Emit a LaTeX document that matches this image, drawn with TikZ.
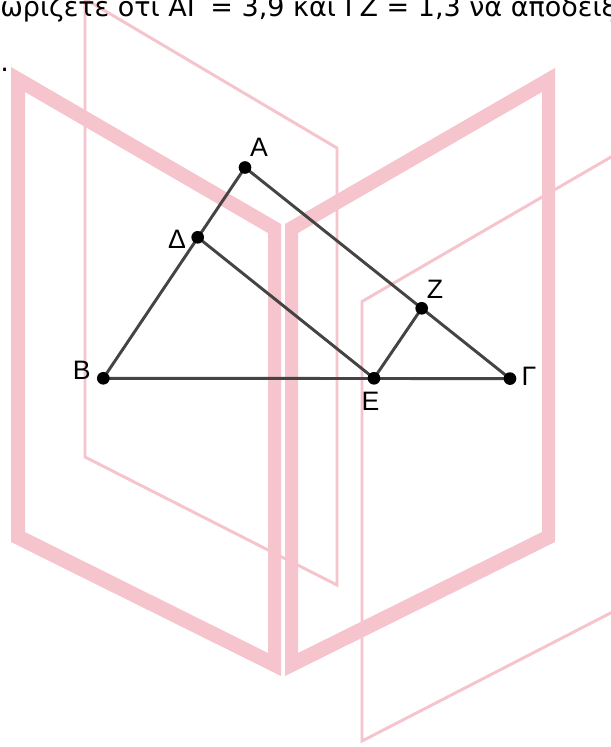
\documentclass[tikz,border=0pt]{standalone}
\usepackage{fontspec}
\setmainfont{Liberation Sans}
\newfontfamily\topfont{DejaVu Sans}
\definecolor{wm}{RGB}{246,196,204}
\definecolor{seg}{RGB}{68,68,68}
\tikzset{
  band/.style={fill=wm, even odd rule, draw=none},
  thinframe/.style={draw=wm, line width=2.2pt, line join=miter},
  segline/.style={draw=seg, line width=2.2pt},
  dot/.style={circle, fill=black, inner sep=0pt, minimum size=9.5pt},
  ptlabel/.style={inner sep=0pt, font=\fontsize{20}{22}\selectfont},
  toptext/.style={inner sep=0pt, font=\topfont\fontsize{20.25}{24}\selectfont}
}
\begin{document}
\begin{tikzpicture}[x=0.75pt,y=-0.75pt]
\useasboundingbox (0,0) rectangle (611,747);
\clip (0,0) rectangle (611,747);
\fill[white] (0,0) rectangle (611,747);
% watermark
\path[thinframe] (85,-1) -- (337,148) -- (337,585) -- (85,457) -- cycle;
\path[thinframe] (630,146) -- (362,301.5) -- (362,741) -- (630,603);
\path[band] (11,67) -- (281,224) -- (281,676) -- (11,542) -- cycle
            (25,92) -- (268,233) -- (268,653) -- (25,532) -- cycle;
\path[band] (285,224) -- (555,68) -- (555,542) -- (285,676) -- cycle
            (298,233) -- (542,92) -- (542,532) -- (298,653) -- cycle;
% text
\node[toptext, anchor=base west] (txt) at (0,16) {ωρίζετε ότι ΑΓ = 3,9 και ΓΖ = 1,3 να αποδείξετε};
\node[toptext, anchor=base west] (per) at (0,71) {.};
% geometry
\coordinate (pA) at (245,167.5);
\coordinate (pD) at (197.7,237.3);
\coordinate (pB) at (103.3,378.3);
\coordinate (pE) at (374,378.3);
\coordinate (pG) at (510,378.6);
\coordinate (pZ) at (421.7,308.3);
\draw[segline] (pA) -- (pB);
\draw[segline] (pA) -- (pG);
\draw[segline] (pB) -- (pG);
\draw[segline] (pD) -- (pE);
\draw[segline] (pE) -- (pZ);
\node[dot] (A) at (pA) {};
\node[dot] (D) at (pD) {};
\node[dot] (B) at (pB) {};
\node[dot] (E) at (pE) {};
\node[dot] (G) at (pG) {};
\node[dot] (Z) at (pZ) {};
\node[ptlabel] (lA) at (259,147.5) {Α};
\node[ptlabel] (lD) at (177,239) {Δ};
\node[ptlabel] (lB) at (81.7,370) {Β};
\node[ptlabel] (lZ) at (435,289) {Ζ};
\node[ptlabel] (lG) at (529,376) {Γ};
\node[ptlabel] (lE) at (370.5,401) {Ε};
\end{tikzpicture}
\end{document}
